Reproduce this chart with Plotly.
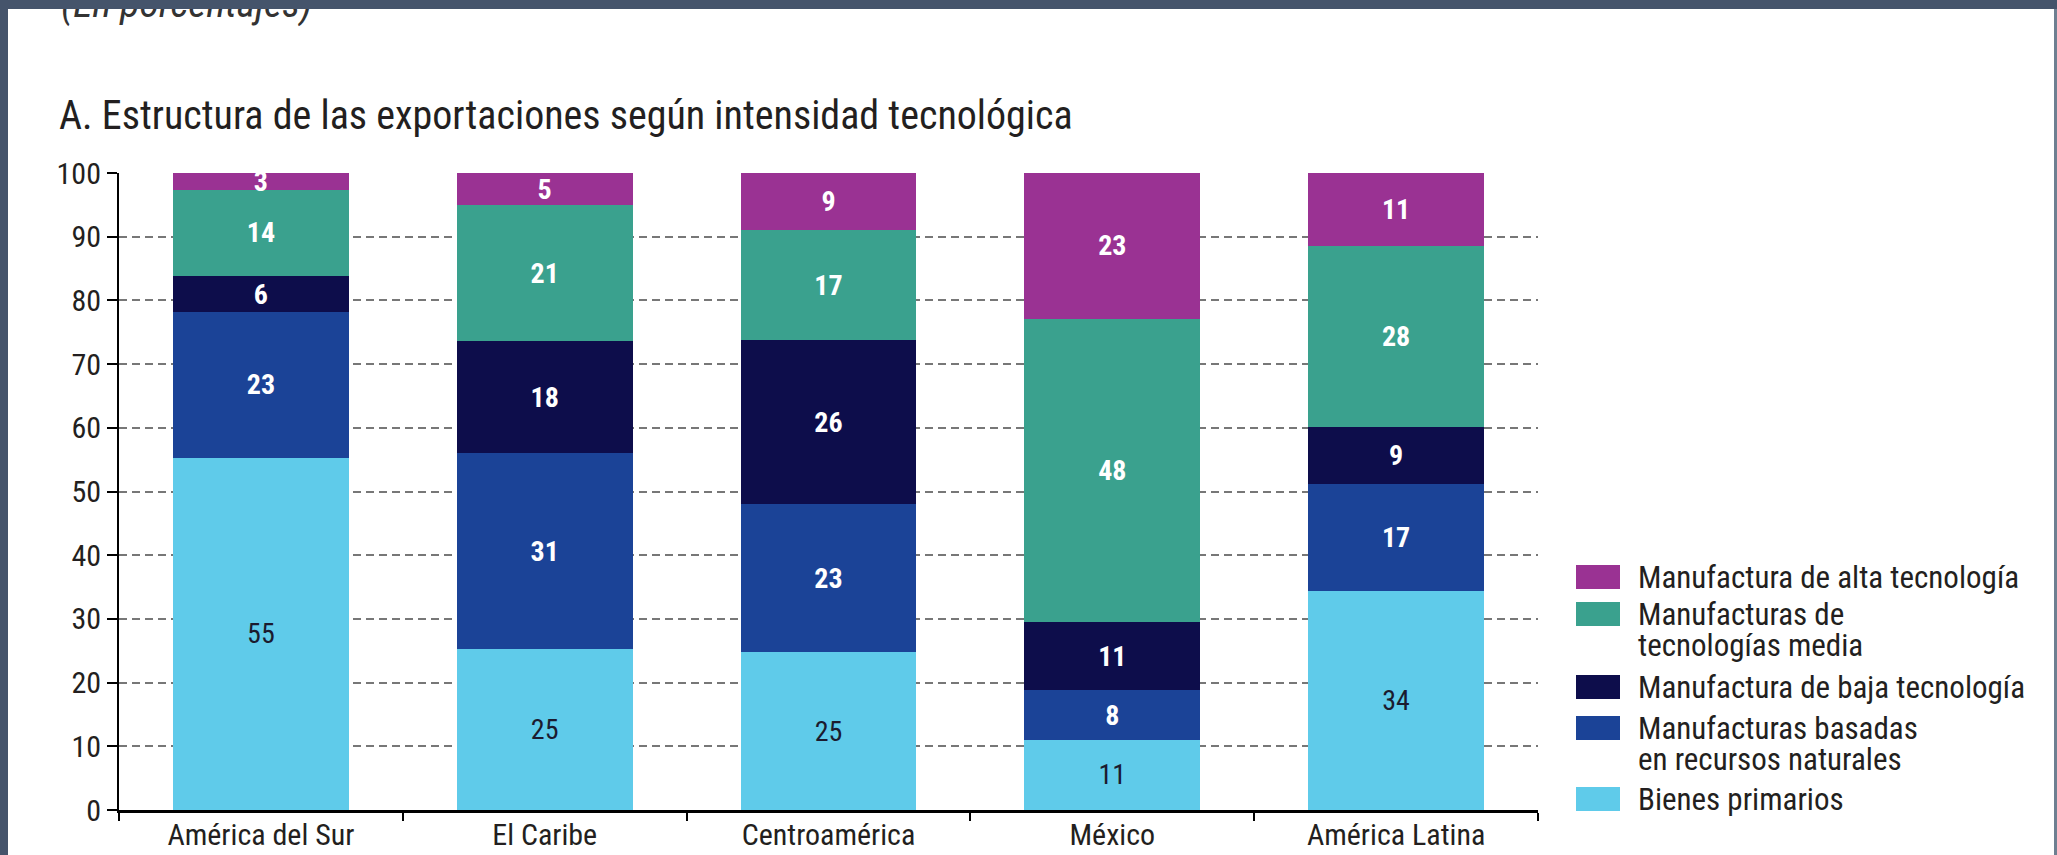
import plotly.graph_objects as go

# ---------------- data ----------------
categorias = ["América del Sur", "El Caribe", "Centroamérica", "México", "América Latina"]

bienes_primarios = [55.3, 25.2, 24.8, 11.0, 34.4]
manuf_recursos_naturales = [22.9, 30.8, 23.2, 7.8, 16.8]
manuf_baja_tecnologia = [5.6, 17.6, 25.8, 10.7, 9.0]
manuf_tecnologia_media = [13.6, 21.3, 17.2, 47.6, 28.4]
manuf_alta_tecnologia = [2.6, 5.1, 9.0, 22.9, 11.4]

y_ticks = [0, 10, 20, 30, 40, 50, 60, 70, 80, 90, 100]

titulo = "A. Estructura de las exportaciones según intensidad tecnológica"
subtitulo = "(En porcentajes)"

# series, bottom to top: (values, legend lines, colour, label colour, bold)
series = [
    (bienes_primarios, ["Bienes primarios"], "#5FCBEA", "#1b1b2f", False),
    (manuf_recursos_naturales, ["Manufacturas basadas", "en recursos naturales"], "#1B4397", "#ffffff", True),
    (manuf_baja_tecnologia, ["Manufactura de baja tecnología"], "#0D0D4B", "#ffffff", True),
    (manuf_tecnologia_media, ["Manufacturas de", "tecnologías media"], "#3AA18E", "#ffffff", True),
    (manuf_alta_tecnologia, ["Manufactura de alta tecnología"], "#9A3293", "#ffffff", True),
]

# ---------------- layout geometry (pixels) ----------------
FIG_W, FIG_H = 2057, 855
PL, PR, PT, PB = 119, 1538, 173, 810
FONT = "Liberation Sans Narrow, Arial Narrow, Roboto Condensed, DejaVu Sans Condensed, sans-serif"
TXT = "#231f20"
FRAME = "#45546B"


def fx(p):
    return (p - PL) / (PR - PL)


def fy(p):
    return (PB - p) / (PB - PT)


fig = go.Figure()
for vals, names, col, tcol, bold in series:
    fig.add_trace(go.Bar(
        x=categorias, y=vals, name=" ".join(names),
        marker=dict(color=col, line=dict(width=0)),
        width=0.62,
        texttemplate="%{y:.0f}", textposition="inside", insidetextanchor="middle",
        textangle=0, constraintext="none",
        textfont=dict(family=FONT, size=28, color=tcol, weight="bold" if bold else "normal"),
        showlegend=False,
        hoverinfo="x+y+name",
    ))

shapes = []
annotations = []

# title / subtitle
annotations.append(dict(text=subtitulo, x=fx(59), y=fy(3), xref="paper", yref="paper",
                        xanchor="left", yanchor="middle", showarrow=False,
                        font=dict(family=FONT, size=40, color="#333333", style="italic")))
annotations.append(dict(text=titulo, x=fx(57), y=fy(116), xref="paper", yref="paper",
                        xanchor="left", yanchor="middle", showarrow=False,
                        font=dict(family=FONT, size=40, color=TXT)))
# top frame band drawn over the subtitle
annotations.append(dict(text=" ", x=fx(0), y=fy(0), xref="paper", yref="paper",
                        xanchor="left", yanchor="top", showarrow=False,
                        width=FIG_W, height=9, bgcolor=FRAME, borderpad=0, borderwidth=0,
                        font=dict(size=6)))
# side frame
shapes.append(dict(type="rect", xref="paper", yref="paper", x0=fx(0), x1=fx(8),
                   y0=fy(FIG_H), y1=fy(0), fillcolor=FRAME, line=dict(width=0), layer="above"))
shapes.append(dict(type="rect", xref="paper", yref="paper", x0=fx(2054), x1=fx(FIG_W),
                   y0=fy(FIG_H), y1=fy(0), fillcolor="#6E7F91", line=dict(width=0), layer="above"))

# custom legend (top to bottom)
legend_centers = [577, 614, 687, 728, 799]
line_gap = 31
for (vals, names, col, tcol, bold), cy in zip(reversed(series), legend_centers):
    shapes.append(dict(type="rect", xref="paper", yref="paper", x0=fx(1576), x1=fx(1620),
                       y0=fy(cy + 12), y1=fy(cy - 12), fillcolor=col,
                       line=dict(width=0), layer="above"))
    for i, line in enumerate(names):
        annotations.append(dict(text=line, x=fx(1636), y=fy(cy + i * line_gap), xref="paper",
                                yref="paper", xanchor="left", yanchor="middle", showarrow=False,
                                font=dict(family=FONT, size=31, color=TXT)))

fig.update_layout(
    width=FIG_W, height=FIG_H,
    margin=dict(l=PL, r=FIG_W - PR, t=PT, b=FIG_H - PB, pad=0, autoexpand=False),
    barmode="stack", bargap=0.38,
    paper_bgcolor="white", plot_bgcolor="white",
    font=dict(family=FONT, color=TXT),
    uniformtext=dict(mode="show", minsize=10),
    shapes=shapes, annotations=annotations,
    showlegend=False,
    xaxis=dict(type="category", range=[-0.5, 4.5], showline=True, linecolor="#000000",
               linewidth=3, ticks="outside", tickson="boundaries", ticklen=8, tickwidth=2,
               tickcolor="#000000", showgrid=False, zeroline=False, ticklabelstandoff=-4,
               tickfont=dict(family=FONT, size=30, color=TXT), automargin=False),
    yaxis=dict(range=[0, 100], tickvals=y_ticks, showline=True, linecolor="#000000",
               linewidth=2, ticks="outside", ticklen=10, tickwidth=2, tickcolor="#000000",
               showgrid=True, gridcolor="#777777", gridwidth=2, griddash="8px,5px",
               zeroline=False, tickfont=dict(family=FONT, size=30, color=TXT),
               automargin=False),
)

fig.write_html("out.html", config={"displayModeBar": False},
               post_script="document.body.style.margin='0';document.body.style.overflow='hidden';")
